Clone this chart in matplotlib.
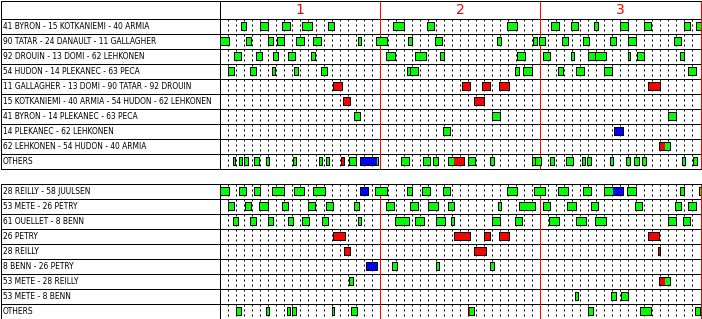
import matplotlib
matplotlib.use("Agg")
import matplotlib.pyplot as plt

# shift data: (start, [split,] end, colours) in game minutes
# g = even strength, r = power play, b = short handed
period_labels = ["1", "2", "3"]

top_labels = [
    "41 BYRON - 15 KOTKANIEMI - 40 ARMIA",
    "90 TATAR - 24 DANAULT - 11 GALLAGHER",
    "92 DROUIN - 13 DOMI - 62 LEHKONEN",
    "54 HUDON - 14 PLEKANEC - 63 PECA",
    "11 GALLAGHER - 13 DOMI - 90 TATAR - 92 DROUIN",
    "15 KOTKANIEMI - 40 ARMIA - 54 HUDON - 62 LEHKONEN",
    "41 BYRON - 14 PLEKANEC - 63 PECA",
    "14 PLEKANEC - 62 LEHKONEN",
    "62 LEHKONEN - 54 HUDON - 40 ARMIA",
    "OTHERS",
]
top_shifts = [
    [(2.67, 3.33, 'g'), (5.1, 6.1, 'g'), (7.8, 8.8, 'g'), (10.3, 11.6, 'g'), (13.5, 14.3, 'g'),
     (21.7, 23.0, 'g'), (25.9, 26.8, 'g'), (35.9, 37.1, 'g'), (41.4, 42.3, 'g'), (43.9, 44.7, 'g'),
     (46.7, 47.2, 'g'), (50.0, 51.0, 'g'), (52.9, 53.8, 'g'), (57.9, 58.7, 'g'), (59.4, 60.0, 'g')],
    [(0.0, 1.2, 'g'), (3.25, 3.95, 'g'), (6.0, 6.7, 'g'), (7.2, 8.1, 'g'), (9.5, 10.5, 'g'),
     (11.7, 12.7, 'g'), (17.25, 17.7, 'g'), (19.5, 20.95, 'g'), (23.5, 24.0, 'g'), (26.9, 27.75, 'g'),
     (34.6, 35.1, 'g'), (39.1, 39.6, 'g'), (39.9, 40.6, 'g'), (42.7, 43.5, 'g'), (45.4, 46.1, 'g'),
     (48.75, 49.5, 'g'), (51.0, 52.0, 'g'), (56.75, 57.6, 'g')],
    [(1.75, 2.7, 'g'), (4.6, 5.3, 'g'), (6.7, 7.3, 'g'), (8.6, 9.4, 'g'), (11.4, 11.9, 'g'),
     (20.75, 21.95, 'g'), (24.4, 25.7, 'g'), (27.5, 28.0, 'g'), (37.1, 38.1, 'g'), (40.4, 41.25, 'g'),
     (43.9, 44.2, 'g'), (46.0, 46.9, 'g'), (46.9, 48.2, 'g'), (50.9, 51.2, 'g'), (52.1, 53.0, 'g'),
     (57.4, 58.0, 'g')],
    [(1.05, 1.8, 'g'), (3.8, 4.5, 'g'), (6.5, 6.95, 'g'), (9.25, 9.8, 'g'), (12.6, 13.4, 'g'),
     (23.4, 23.8, 'g'), (23.8, 24.7, 'g'), (36.9, 37.3, 'g'), (37.9, 39.0, 'g'), (42.2, 42.8, 'g'),
     (44.5, 45.5, 'g'), (48.0, 49.0, 'g'), (58.4, 59.5, 'g')],
    [(14.2, 15.3, 'r'), (30.25, 31.3, 'r'), (32.75, 33.8, 'r'), (34.9, 36.1, 'r'), (53.5, 55.0, 'r')],
    [(15.4, 16.3, 'r'), (31.7, 33.0, 'r')],
    [(16.75, 17.5, 'g'), (34.0, 34.95, 'g'), (55.9, 56.9, 'g')],
    [(27.9, 28.7, 'g'), (49.2, 50.3, 'b')],
    [(54.8, 55.6, 56.2, 'rg')],
    [(1.65, 1.95, 'g'), (2.4, 2.8, 'g'), (3.1, 3.6, 'g'), (4.25, 4.9, 'g'), (5.75, 6.2, 'g'),
     (9.2, 9.5, 'g'), (12.4, 12.8, 'g'), (13.25, 13.7, 'g'), (15.2, 15.5, 'r'), (16.2, 17.0, 'g'),
     (17.5, 19.6, 19.8, 'bg'), (22.6, 23.6, 'g'), (25.4, 26.25, 'g'), (26.6, 27.2, 'g'),
     (28.5, 29.25, 30.5, 'gr'), (31.0, 31.9, 'g'), (33.7, 34.2, 'g'), (39.0, 39.3, 'g'),
     (39.3, 40.1, 'g'), (41.25, 41.7, 'g'), (43.25, 44.1, 'g'), (45.2, 45.6, 'g'), (45.9, 46.3, 'g'),
     (48.75, 49.1, 'g'), (50.75, 51.2, 'g'), (51.75, 52.3, 'g'), (52.75, 53.2, 'g'),
     (57.75, 58.1, 'g'), (59.1, 59.6, 'g')],
]

bottom_labels = [
    "28 REILLY - 58 JUULSEN",
    "53 METE - 26 PETRY",
    "61 OUELLET - 8 BENN",
    "26 PETRY",
    "28 REILLY",
    "8 BENN - 26 PETRY",
    "53 METE - 28 REILLY",
    "53 METE - 8 BENN",
    "OTHERS",
]
bottom_shifts = [
    [(0.0, 1.2, 'g'), (2.4, 3.3, 'g'), (4.25, 5.1, 'g'), (6.5, 8.1, 'g'), (9.25, 10.5, 'g'),
     (11.7, 13.1, 'g'), (17.5, 18.5, 'b'), (19.4, 20.95, 'g'), (23.4, 24.0, 'g'), (25.3, 26.2, 'g'),
     (27.9, 28.7, 'g'), (35.9, 37.1, 'g'), (39.2, 40.55, 'g'), (42.2, 43.5, 'g'), (45.4, 46.3, 'g'),
     (48.0, 49.1, 50.3, 'gb'), (50.8, 52.0, 'g'), (57.4, 57.95, 'g'), (59.8, 60.0, 'g')],
    [(1.05, 1.8, 'g'), (3.2, 3.9, 'g'), (4.9, 6.0, 'g'), (7.8, 8.5, 'g'), (11.0, 11.95, 'g'),
     (13.3, 14.2, 'g'), (16.8, 17.4, 'g'), (20.8, 21.8, 'g'), (23.8, 24.7, 'g'), (26.05, 27.2, 'g'),
     (28.5, 29.2, 'g'), (34.7, 35.1, 'g'), (37.4, 39.3, 'g'), (40.3, 41.2, 'g'), (43.3, 44.5, 'g'),
     (46.3, 47.2, 'g'), (51.8, 52.7, 'g'), (56.8, 57.6, 'g'), (58.4, 59.4, 'g')],
    [(1.65, 2.3, 'g'), (3.8, 4.5, 'g'), (6.0, 6.7, 'g'), (8.6, 9.2, 'g'), (10.3, 11.2, 'g'),
     (12.8, 13.5, 'g'), (17.25, 17.7, 'g'), (21.9, 23.6, 'g'), (24.4, 25.5, 'g'), (27.05, 28.1, 'g'),
     (28.9, 29.3, 'g'), (34.05, 35.0, 'g'), (36.9, 37.7, 'g'), (41.05, 42.3, 'g'), (44.5, 45.7, 'g'),
     (46.9, 48.2, 'g'), (55.9, 56.95, 'g'), (57.8, 58.7, 'g')],
    [(14.2, 15.7, 'r'), (29.2, 31.3, 'r'), (33.05, 33.8, 'r'), (34.9, 36.1, 'r'), (53.5, 54.8, 'r')],
    [(15.5, 16.3, 'r'), (31.7, 33.2, 'r'), (54.7, 55.0, 'r')],
    [(18.25, 19.6, 'b'), (21.5, 22.1, 'g'), (27.05, 27.4, 'g'), (33.7, 34.2, 'g')],
    [(16.2, 16.7, 'g'), (54.8, 55.6, 56.2, 'rg')],
    [(44.4, 44.7, 'g'), (48.8, 49.4, 'g'), (50.05, 51.0, 'g')],
    [(2.1, 2.7, 'g'), (5.75, 6.2, 'g'), (8.4, 8.8, 'g'), (9.05, 9.5, 'g'), (14.05, 14.3, 'g'),
     (16.4, 17.1, 'g'), (31.05, 31.2, 31.8, 'rg'), (46.0, 46.6, 'g'), (52.5, 53.8, 'g'),
     (59.3, 59.95, 'g')],
]

COLORS = {'g': '#00ff00', 'r': '#ff0000', 'b': '#0000ff'}
W, H = 702, 319
LW = 0.72  # one pixel


def box(x0, y0, x1, y1):
    return [x0 / W, 1 - y1 / H, (x1 - x0) / W, (y1 - y0) / H]


def label_column(ax, labels, top):
    ax.set_xlim(0, 219)
    ax.set_ylim(len(labels), top)
    ax.set_xticks([])
    ax.set_yticks([])
    for s in ax.spines.values():
        s.set_linewidth(LW)
    ax.hlines(range(len(labels) + 1), 0, 219, color='black', lw=LW)
    for i, lab in enumerate(labels):
        ax.text(2.5, i + 0.52, lab, fontsize=5.45, va='center', ha='left')


def shift_chart(ax, shifts, top):
    n = len(shifts)
    ax.set_xlim(0, 60)
    ax.set_ylim(n, top)
    ax.set_xticks([])
    ax.set_yticks([])
    for s in ax.spines.values():
        s.set_linewidth(LW)
    ax.spines['right'].set_color('red')
    minutes = [m for m in range(1, 60) if m % 20]
    ax.vlines(minutes, 0, n, color='black', lw=LW, linestyles=(0, (2, 3)), zorder=1)
    ax.hlines(range(n + 1), 0, 60, color='black', lw=LW, zorder=2)
    for p in (20, 40):
        ax.axvline(p, color='red', lw=LW, zorder=2)
    for row, row_shifts in enumerate(shifts):
        for s in row_shifts:
            times, cols = s[:-1], s[-1]
            for k, c in enumerate(cols):
                ax.broken_barh([(times[k], times[k + 1] - times[k])], (row + 0.25, 0.5),
                               facecolors=COLORS[c], edgecolors='none', zorder=3)
            ax.broken_barh([(times[0], times[-1] - times[0])], (row + 0.25, 0.5),
                           facecolors='none', edgecolors='black', linewidth=LW, zorder=4)


fig = plt.figure(figsize=(W / 100, H / 100), dpi=100)

ax_tl = fig.add_axes(box(0.5, 0.5, 219.5, 168.5))
ax_tc = fig.add_axes(box(219.5, 0.5, 700.5, 168.5))
label_column(ax_tl, top_labels, -1.2)
shift_chart(ax_tc, top_shifts, -1.2)
for i, lab in enumerate(period_labels):
    ax_tc.text(10 + 20 * i, -0.6, lab, color='red', fontsize=10, ha='center', va='center')

ax_bl = fig.add_axes(box(0.5, 183.5, 219.5, 318.5))
ax_bc = fig.add_axes(box(219.5, 183.5, 700.5, 318.5))
label_column(ax_bl, bottom_labels, 0)
shift_chart(ax_bc, bottom_shifts, 0)

fig.savefig("out.png", dpi=100)
